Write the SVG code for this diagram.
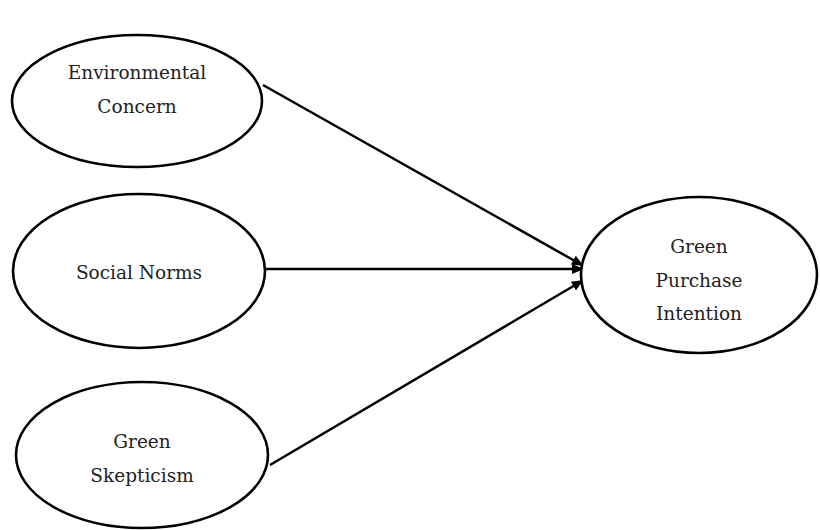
<svg xmlns="http://www.w3.org/2000/svg" width="820" height="530" viewBox="0 0 820 530">
<style>
.node ellipse{fill:#fff;stroke:#000;stroke-width:2.6}
.node text{font-family:"DejaVu Serif","Liberation Serif",serif;font-size:18.5px;fill:#222;text-anchor:middle}
.conn line{stroke:#000;stroke-width:2.5;marker-end:url(#ah)}
</style>
<defs>
<marker id="ah" markerWidth="12" markerHeight="10" refX="10" refY="5" orient="auto" markerUnits="userSpaceOnUse">
<path d="M0,0 L12,5 L0,10 Z" fill="#000"/>
</marker>
</defs>
<rect width="820" height="530" fill="#fff"/>
<g id="connectors" class="conn">
<line x1="263" y1="85" x2="582" y2="265"/>
<line x1="264" y1="269" x2="582" y2="269"/>
<line x1="270" y1="465" x2="582" y2="281"/>
</g>
<g id="env" class="node">
<ellipse cx="137" cy="101" rx="125" ry="66"/>
<text x="137" y="79">Environmental</text>
<text x="137" y="113">Concern</text>
</g>
<g id="social" class="node">
<ellipse cx="139" cy="271" rx="126" ry="77"/>
<text x="139" y="279">Social Norms</text>
</g>
<g id="skept" class="node">
<ellipse cx="142" cy="455" rx="126" ry="73"/>
<text x="142" y="448">Green</text>
<text x="142" y="482">Skepticism</text>
</g>
<g id="gpi" class="node">
<ellipse cx="699" cy="275" rx="118" ry="78"/>
<text x="699" y="253">Green</text>
<text x="699" y="287">Purchase</text>
<text x="699" y="320">Intention</text>
</g>
</svg>
